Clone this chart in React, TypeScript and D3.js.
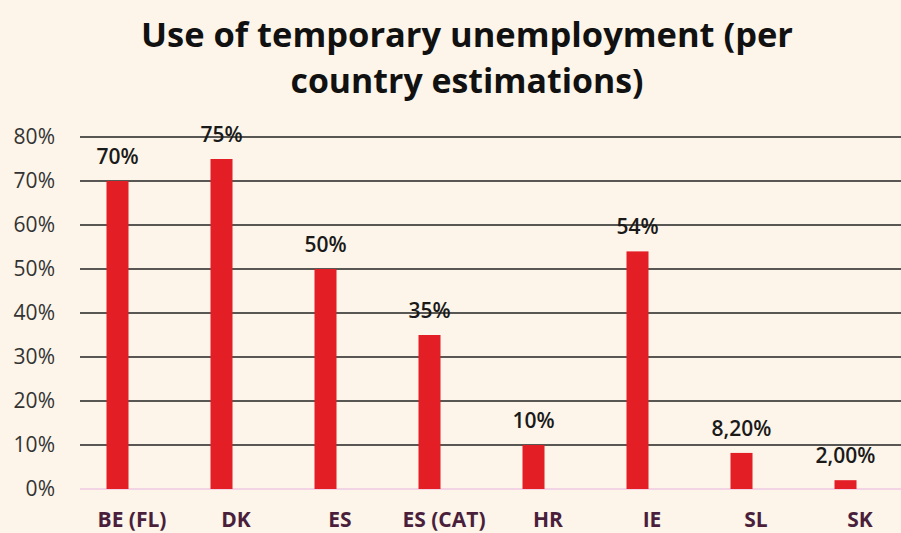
import React from "react";
import * as d3 from "d3";

const categories = ["BE (FL)", "DK", "ES", "ES (CAT)", "HR", "IE", "SL", "SK"];
const values = [70, 75, 50, 35, 10, 54, 8.2, 2.0];
const valueLabels = ["70%", "75%", "50%", "35%", "10%", "54%", "8,20%", "2,00%"];
const yTicks = [0, 10, 20, 30, 40, 50, 60, 70, 80];

const W = 901;
const H = 533;

export default function App() {
  const x = d3.scaleBand<string>().domain(categories).range([80, 912]).padding(0);
  const y = d3.scaleLinear().domain([0, 80]).range([489, 137]);
  const barW = 22;
  const barOffset = -14.5;
  const font = "'Open Sans', 'Liberation Sans', sans-serif";
  return (
    <svg width={W} height={H} style={{ position: "absolute", left: 0, top: 0, display: "block" }}>
      <rect x={0} y={0} width={W} height={H} fill="#fdf5e9" />
      <text x={467} y={47} textAnchor="middle" fontFamily={font} fontWeight={700} fontSize={34} fill="#111"
        textLength={652} lengthAdjust="spacingAndGlyphs">
        Use of temporary unemployment (per
      </text>
      <text x={467} y={93} textAnchor="middle" fontFamily={font} fontWeight={700} fontSize={34} fill="#111"
        textLength={353} lengthAdjust="spacingAndGlyphs">
        country estimations)
      </text>
      {yTicks.map((t) => (
        <g key={t}>
          <line
            x1={80}
            x2={W}
            y1={y(t)}
            y2={y(t)}
            stroke={t === 0 ? "#efc9e3" : "#222"}
            strokeWidth={t === 0 ? 1.5 : 1.4}
          />
          <text x={55} y={y(t) + 7} textAnchor="end" fontFamily={font} fontSize={21} fill="#333">
            {t}%
          </text>
        </g>
      ))}
      {categories.map((c, i) => {
        const cx = (x(c) as number) + x.bandwidth() / 2 + barOffset;
        return (
          <g key={c}>
            <rect x={cx - barW / 2} y={y(values[i])} width={barW} height={y(0) - y(values[i])} fill="#e31e25" />
            <text x={cx} y={y(values[i]) - 17} textAnchor="middle" fontFamily={font} fontWeight={600} fontSize={21} fill="#1a1a1a">
              {valueLabels[i]}
            </text>
            <text x={(x(c) as number) + x.bandwidth() / 2} y={527} textAnchor="middle" fontFamily={font} fontWeight={700} fontSize={21} fill="#4a1f3c">
              {c}
            </text>
          </g>
        );
      })}
    </svg>
  );
}
